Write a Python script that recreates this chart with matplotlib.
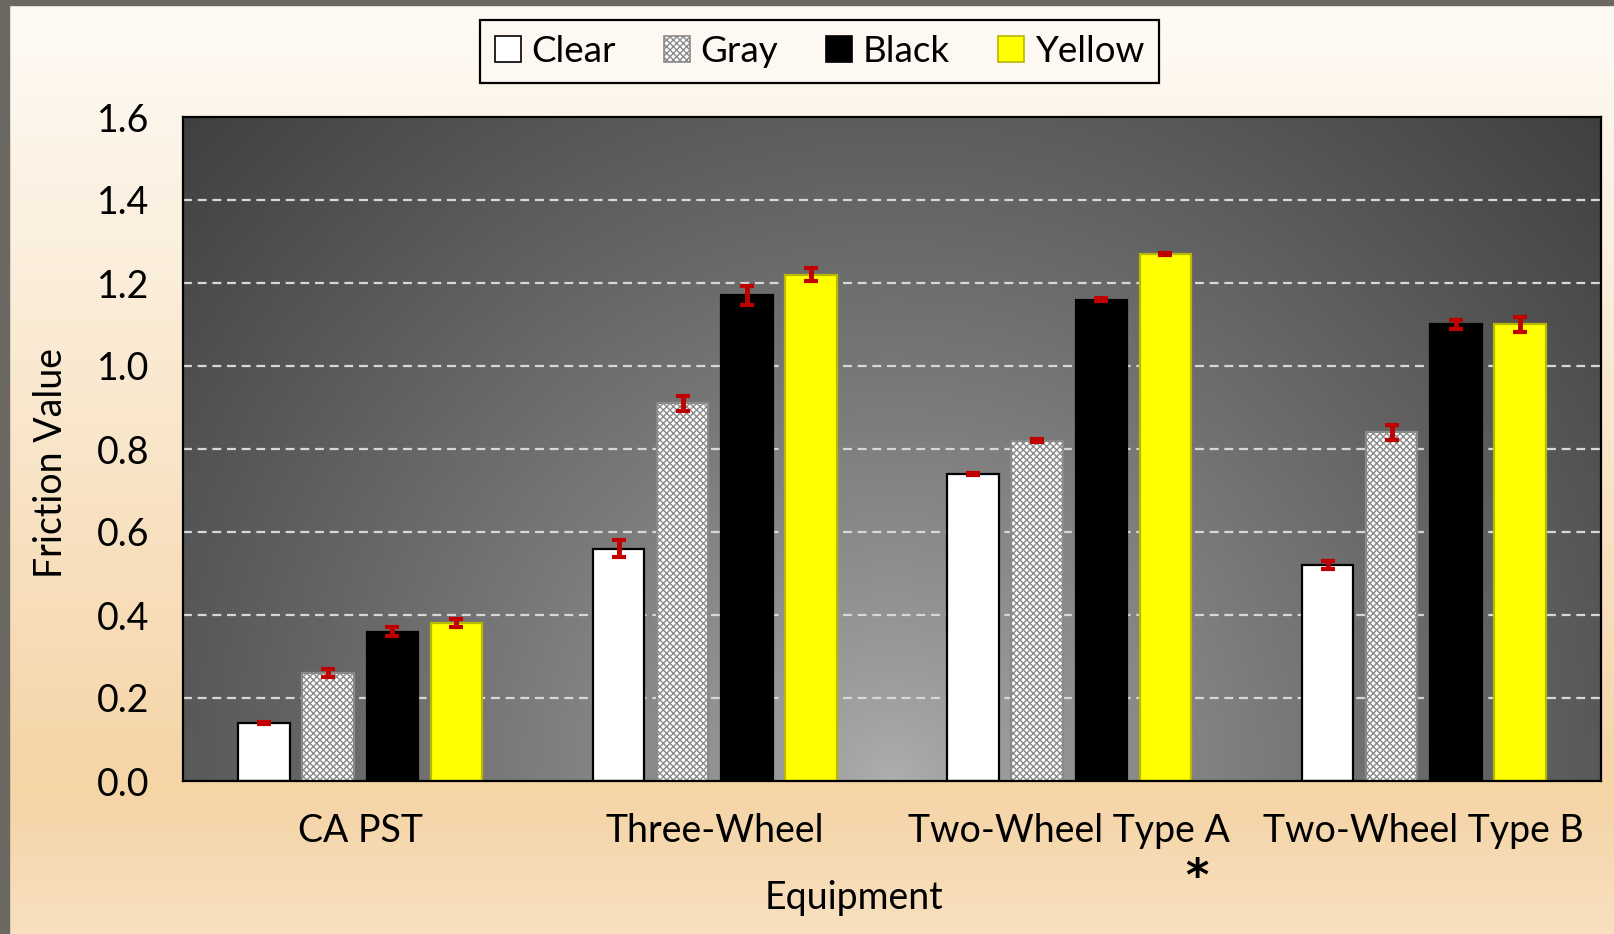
import numpy as np
import matplotlib.pyplot as plt
from matplotlib.patches import Patch, Rectangle

equipment = ["CA PST", "Three-Wheel", "Two-Wheel Type A", "Two-Wheel Type B"]
series = ["Clear", "Gray", "Black", "Yellow"]
clear_vals = [0.14, 0.56, 0.74, 0.52]
gray_vals = [0.26, 0.91, 0.82, 0.84]
black_vals = [0.36, 1.17, 1.16, 1.10]
yellow_vals = [0.38, 1.22, 1.27, 1.10]
clear_err = [0.003, 0.02, 0.003, 0.01]
gray_err = [0.01, 0.018, 0.003, 0.018]
black_err = [0.01, 0.023, 0.003, 0.01]
yellow_err = [0.01, 0.015, 0.003, 0.017]
y_ticks = [0.0, 0.2, 0.4, 0.6, 0.8, 1.0, 1.2, 1.4, 1.6]

plt.rcParams['font.family'] = ['Lato', 'DejaVu Sans']
plt.rcParams['hatch.linewidth'] = 1.0

fig = plt.figure(figsize=(16.14, 9.34), dpi=100)

# page background: cream to peach, with the dark frame on left/top
bg = fig.add_axes([0, 0, 1, 1], zorder=-10)
bg.set_axis_off()
top_c = np.array([254, 251, 246]) / 255
mid_c = np.array([245, 212, 166]) / 255
bot_c = np.array([248, 224, 192]) / 255
t = np.linspace(0, 1, 300)[:, None]
grad = np.where(t < 0.85, top_c + (mid_c - top_c) * (t / 0.85),
                mid_c + (bot_c - mid_c) * ((t - 0.85) / 0.15))
bg.imshow(grad[:, None, :].repeat(2, axis=1), extent=(0, 1, 0, 1), aspect='auto')
bg.set_xlim(0, 1)
bg.set_ylim(0, 1)
bg.add_patch(Rectangle((0, 0), 9 / 1614, 1, color='#6b6761'))
bg.add_patch(Rectangle((0, 1 - 5 / 934), 1, 5 / 934, color='#6b6761'))

ax = fig.add_axes([183 / 1614, 1 - 781 / 934, 1418 / 1614, 664 / 934])

# radial gray gradient in the plot area
xs = np.linspace(0, 1418, 400)
ys = np.linspace(0, 664, 200)
X, Y = np.meshgrid(xs, ys)
d = np.clip(np.hypot(X - 709, Y - 664) / 971, 0, 1) ** 0.8
light = np.array([175, 175, 175]) / 255
dark = np.array([64, 64, 64]) / 255
rgb = light + (dark - light) * d[..., None]
ax.imshow(rgb, extent=(-0.5, 3.5, 0, 1.6), aspect='auto', zorder=0, interpolation='bilinear')

for yv in y_ticks[1:-1]:
    ax.axhline(yv, color='#d8d8d8', lw=1.6, ls=(0, (4, 2.6)), zorder=1)

x = np.arange(len(equipment))
w = 0.145
step = 0.181
vals = [clear_vals, gray_vals, black_vals, yellow_vals]
errs = [clear_err, gray_err, black_err, yellow_err]
faces = ['white', 'white', 'black', '#ffff00']
edges = ['black', '#8a8a8a', 'black', '#b8b800']
hatches = [None, 'xxxxx', None, None]
for i in range(4):
    pos = x + (i - 1.5) * step
    ax.bar(pos, vals[i], width=w, color=faces[i], edgecolor=edges[i], linewidth=1.6,
           hatch=hatches[i], zorder=2)
    ax.errorbar(pos, vals[i], yerr=errs[i], fmt='none', ecolor='#c00000',
                elinewidth=3.5, capsize=5, capthick=3, zorder=4)

ax.set_xlim(-0.5, 3.5)
ax.set_ylim(0, 1.6)
ax.set_yticks(y_ticks)
ax.set_yticklabels([f"{v:.1f}" for v in y_ticks])
ax.set_xticks(x)
ax.set_xticklabels(equipment)
ax.tick_params(axis='both', length=0, labelsize=27)
ax.tick_params(axis='y', pad=24)
ax.tick_params(axis='x', pad=23)
for s in ax.spines.values():
    s.set_color('black')
    s.set_linewidth(1.6)
    s.set_zorder(5)

fig.text(51.5 / 1614, 1 - 463 / 934, "Friction Value", rotation=90, fontsize=27,
         ha='center', va='center')
fig.text(854 / 1614, 1 - 898 / 934, "Equipment", fontsize=27, ha='center', va='center')
fig.text(1197 / 1614, 1 - 878 / 934, "*", fontsize=32, fontweight='bold',
         ha='center', va='center', family='DejaVu Sans')

handles = [Patch(facecolor=faces[i], edgecolor=edges[i], hatch=hatches[i], linewidth=1.2)
           for i in range(4)]
leg = fig.legend(handles, series, loc='center', bbox_to_anchor=(819.5 / 1614, 1 - 51.5 / 934),
                 ncol=4, fontsize=26.5, frameon=True, fancybox=False, handlelength=0.7,
                 handleheight=0.7, handletextpad=0.3, columnspacing=1.3, borderpad=0.4,
                 borderaxespad=0)
leg.get_frame().set_edgecolor('black')
leg.get_frame().set_facecolor('#fdf9f2')
leg.get_frame().set_linewidth(1.6)
leg.get_frame().set_alpha(1)

fig.savefig("out.png", dpi=100)
